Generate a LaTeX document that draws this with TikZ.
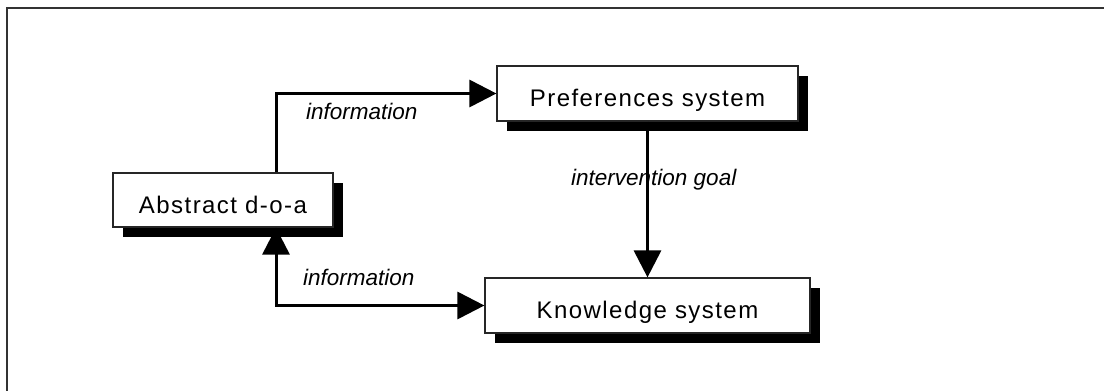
\documentclass[tikz,border=0pt]{standalone}
\usepackage{fontspec}
\setmainfont{Liberation Sans}
\newfontfamily\boxfont[LetterSpace=6]{Liberation Sans}
\usetikzlibrary{shadows}
\usetikzlibrary{arrows.meta}
\tikzset{% 
	box/.style={draw=black!85,line width=1.2pt,fill=white,inner sep=0pt,
		font=\boxfont\fontsize{24}{28}\selectfont,text height=26pt,text depth=0pt,
		drop shadow={shadow xshift=10pt,shadow yshift=-10pt,fill=black,opacity=1}},
	flow/.style={line width=3pt,-{Triangle[length=27pt,width=27pt]}},
	twoway/.style={line width=3pt,{Triangle[length=27pt,width=27pt]}-{Triangle[length=27pt,width=27pt]}},
	lbl/.style={font=\itshape\fontsize{22.5}{27}\selectfont,anchor=base west,inner sep=0pt}
}

\begin{document}
\begin{tikzpicture}[x=1pt,y=-1pt]
		\useasboundingbox (0,0) rectangle (1104,391);
		\draw [line width=2pt,color=black!80] (7,391)--(7,8)--(1104,8);

		\coordinate (tap) at (276,200);

		\node [box,minimum width=220pt,minimum height=54pt] (doa) at (223,200) {Abstract d-o-a};
		\node [box,minimum width=301pt,minimum height=55pt] (pref) at (647.5,93.5) {Preferences system};
		\node [box,minimum width=325pt,minimum height=55pt] (know) at (647.5,305.5) {Knowledge system};

		\draw [flow] (doa.north -| tap) |- (pref.west);
		\draw [flow] (pref.south) -- (know.north);
		\draw [twoway] (doa.south -| tap) |- (know.west);

		\node [lbl] (info1) at (306,119) {information};
		\node [lbl] (info2) at (303,285) {information};
		\node [lbl] (goal) at (571,185.5) {intervention goal};

	\end{tikzpicture}
\end{document}
